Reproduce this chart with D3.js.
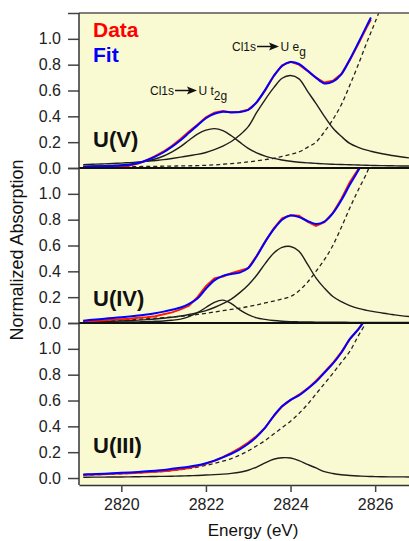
<!DOCTYPE html>
<html>
<head>
<meta charset="utf-8">
<script src="https://cdn.jsdelivr.net/npm/d3@7"></script>
<style>
    body { margin: 0; background: #fff; }
    svg { display: block; font-family: "Liberation Sans", Arial, sans-serif; }
</style>
</head>
<body>
<div id="chart"></div>
<script>
//energy grid shared by all curves (eV)
var energy = [2819.1, 2819.2, 2819.4, 2819.6, 2819.8, 2820.0, 2820.2, 2820.4, 2820.6, 2820.8,
    2821.0, 2821.2, 2821.4, 2821.6, 2821.8, 2822.0, 2822.2, 2822.4, 2822.6, 2822.8,
    2823.0, 2823.2, 2823.4, 2823.6, 2823.8, 2824.0, 2824.2, 2824.4, 2824.6, 2824.8,
    2825.0, 2825.2, 2825.4, 2825.6, 2825.8, 2825.9, 2826.0, 2826.2, 2826.4, 2826.6, 2826.8];

//U(V) panel
var dataV = [0.008, 0.006, 0.007, 0.009, 0.010, 0.012, 0.020, 0.034, 0.060, 0.092,
    0.128, 0.172, 0.225, 0.282, 0.335, 0.392, 0.428, 0.442, 0.430, 0.436,
    0.452, 0.506, 0.600, 0.712, 0.795, 0.822, 0.800, 0.752, 0.700, 0.662,
    0.676, 0.728, 0.835, 0.960, 1.090, 1.150];
var fitV = [0.012, 0.012, 0.013, 0.014, 0.016, 0.019, 0.026, 0.038, 0.060, 0.088,
    0.122, 0.165, 0.215, 0.272, 0.330, 0.385, 0.420, 0.436, 0.432, 0.433,
    0.450, 0.510, 0.605, 0.710, 0.790, 0.820, 0.805, 0.755, 0.700, 0.655,
    0.668, 0.725, 0.840, 0.968, 1.100, 1.165];
var t2gV = [0.012, 0.013, 0.015, 0.017, 0.020, 0.024, 0.030, 0.040, 0.053, 0.070,
    0.093, 0.125, 0.165, 0.215, 0.262, 0.293, 0.305, 0.290, 0.250, 0.200,
    0.152, 0.117, 0.092, 0.074, 0.062, 0.052, 0.045, 0.040, 0.036, 0.032,
    0.029, 0.027, 0.025, 0.023, 0.021, 0.020, 0.019, 0.018, 0.017, 0.016, 0.016];
var egV = [0.026, 0.028, 0.030, 0.032, 0.035, 0.038, 0.042, 0.046, 0.051, 0.058,
    0.065, 0.074, 0.084, 0.095, 0.105, 0.120, 0.142, 0.170, 0.205, 0.255,
    0.320, 0.430, 0.530, 0.620, 0.695, 0.716, 0.690, 0.595, 0.500, 0.400,
    0.310, 0.245, 0.190, 0.160, 0.138, 0.130, 0.122, 0.108, 0.097, 0.087, 0.078];
var edgeV = [0.008, 0.008, 0.009, 0.009, 0.010, 0.010, 0.011, 0.011, 0.012, 0.013,
    0.014, 0.015, 0.016, 0.017, 0.018, 0.021, 0.024, 0.029, 0.034, 0.040,
    0.047, 0.055, 0.065, 0.075, 0.090, 0.105, 0.124, 0.160, 0.200, 0.280,
    0.375, 0.490, 0.640, 0.800, 0.970, 1.050, 1.130, 1.300];

//U(IV) panel
var dataIV = [0.012, 0.014, 0.018, 0.022, 0.027, 0.030, 0.033, 0.040, 0.045, 0.052,
    0.068, 0.082, 0.105, 0.135, 0.200, 0.285, 0.345, 0.360, 0.385, 0.405,
    0.425, 0.520, 0.630, 0.730, 0.810, 0.835, 0.830, 0.785, 0.752, 0.780,
    0.852, 0.960, 1.090, 1.190, 1.300, 1.360];
var fitIV = [0.018, 0.022, 0.027, 0.033, 0.039, 0.045, 0.051, 0.058, 0.066, 0.076,
    0.088, 0.103, 0.120, 0.148, 0.190, 0.265, 0.330, 0.365, 0.380, 0.390,
    0.425, 0.517, 0.628, 0.724, 0.800, 0.832, 0.820, 0.790, 0.767, 0.785,
    0.850, 0.950, 1.070, 1.180, 1.300, 1.360];
var t2gIV = [0.004, 0.004, 0.005, 0.005, 0.006, 0.007, 0.008, 0.009, 0.011, 0.013,
    0.016, 0.021, 0.030, 0.050, 0.080, 0.120, 0.160, 0.177, 0.150, 0.102,
    0.065, 0.040, 0.028, 0.019, 0.014, 0.011, 0.009, 0.008, 0.007, 0.006,
    0.006, 0.006, 0.005, 0.005, 0.005, 0.005, 0.005, 0.004, 0.004, 0.004, 0.004];
var egIV = [0.008, 0.009, 0.010, 0.012, 0.014, 0.016, 0.019, 0.022, 0.026, 0.031,
    0.037, 0.045, 0.054, 0.066, 0.080, 0.096, 0.120, 0.150, 0.185, 0.235,
    0.295, 0.370, 0.460, 0.540, 0.585, 0.592, 0.555, 0.455, 0.350, 0.270,
    0.205, 0.165, 0.135, 0.113, 0.098, 0.092, 0.086, 0.075, 0.066, 0.057, 0.050];
var edgeIV = [0.012, 0.014, 0.016, 0.018, 0.020, 0.023, 0.026, 0.029, 0.033, 0.037,
    0.041, 0.046, 0.052, 0.058, 0.066, 0.075, 0.085, 0.095, 0.105, 0.115,
    0.127, 0.140, 0.155, 0.170, 0.185, 0.205, 0.250, 0.315, 0.400, 0.490,
    0.600, 0.740, 0.890, 1.030, 1.160, 1.240];

//U(III) panel
var dataIII = [0.024, 0.026, 0.028, 0.030, 0.033, 0.035, 0.037, 0.040, 0.044, 0.048,
    0.053, 0.060, 0.068, 0.078, 0.092, 0.110, 0.133, 0.162, 0.195, 0.232,
    0.275, 0.325, 0.390, 0.478, 0.555, 0.603, 0.645, 0.692, 0.752, 0.820,
    0.890, 0.975, 1.075, 1.150, 1.250, 1.300];
var fitIII = [0.027, 0.029, 0.031, 0.034, 0.037, 0.040, 0.043, 0.047, 0.052, 0.057,
    0.063, 0.071, 0.079, 0.088, 0.099, 0.115, 0.135, 0.160, 0.188, 0.222,
    0.265, 0.320, 0.390, 0.480, 0.555, 0.605, 0.640, 0.690, 0.745, 0.815,
    0.885, 0.970, 1.075, 1.150, 1.240, 1.290];
var peakIII = [0.006, 0.006, 0.007, 0.007, 0.008, 0.008, 0.009, 0.010, 0.011, 0.012,
    0.013, 0.014, 0.016, 0.018, 0.020, 0.023, 0.026, 0.030, 0.036, 0.045,
    0.060, 0.085, 0.118, 0.145, 0.157, 0.155, 0.135, 0.105, 0.078, 0.050,
    0.035, 0.025, 0.020, 0.016, 0.013, 0.012, 0.011, 0.010, 0.009, 0.009, 0.008];
var edgeIII = [0.022, 0.024, 0.026, 0.028, 0.031, 0.033, 0.036, 0.039, 0.043, 0.047,
    0.052, 0.058, 0.065, 0.074, 0.085, 0.098, 0.113, 0.130, 0.150, 0.178,
    0.210, 0.250, 0.290, 0.340, 0.390, 0.440, 0.500, 0.570, 0.650, 0.730,
    0.810, 0.895, 0.980, 1.100, 1.210, 1.270];

//tick values
var xTicks = [2820, 2822, 2824, 2826];
var yTicks = [0, 0.2, 0.4, 0.6, 0.8, 1.0, 1.2];

//svg size and plot borders
var svgW = 409;
var svgH = 541;
var plotLeft = 79;
var plotRight = 409;

//panels stacked top to bottom
var panels = [
    {label: "U(V)", data: dataV, fit: fitV, peaks: [t2gV, egV], edge: edgeV,
        top: 13, bottom: 168, ymin: 0, labelY: 147},
    {label: "U(IV)", data: dataIV, fit: fitIV, peaks: [t2gIV, egIV], edge: edgeIV,
        top: 168, bottom: 323, ymin: 0, labelY: 306},
    {label: "U(III)", data: dataIII, fit: fitIII, peaks: [peakIII], edge: edgeIII,
        top: 323, bottom: 485, ymin: -0.054, labelY: 453}
];

var svg = d3.select("#chart").append("svg")
    .attr("width", svgW)
    .attr("height", svgH);

//shared x scale
var xScale = d3.scaleLinear()
    .domain([2819, 2826.8])
    .range([plotLeft, plotRight]);

//yellow plot background
svg.append("rect")
    .attr("x", plotLeft)
    .attr("y", 13)
    .attr("width", plotRight - plotLeft)
    .attr("height", 485 - 13)
    .attr("fill", "#fafad2");

//zip energy with a value array
function points(values) {
    return values.map((v, i) => [energy[i], v]);
}

panels.forEach(function(p, k) {
    var yScale = d3.scaleLinear()
        .domain([p.ymin, 1.2])
        .range([p.bottom, p.top]);

    var smooth = d3.line()
        .x(d => xScale(d[0]))
        .y(d => yScale(d[1]))
        .curve(d3.curveCatmullRom);

    var rough = d3.line()
        .x(d => xScale(d[0]))
        .y(d => yScale(d[1]));

    //clip curves to the panel
    svg.append("clipPath")
        .attr("id", "clip" + k)
        .append("rect")
        .attr("x", plotLeft)
        .attr("y", p.top)
        .attr("width", plotRight - plotLeft)
        .attr("height", p.bottom - p.top);

    var g = svg.append("g").attr("clip-path", `url(#clip${k})`);

    //edge step (dashed)
    g.append("path")
        .attr("d", smooth(points(p.edge)))
        .attr("fill", "none")
        .attr("stroke", "#222")
        .attr("stroke-width", 1.3)
        .attr("stroke-dasharray", "4,3");

    //pre-edge peaks
    p.peaks.forEach(function(pk) {
        g.append("path")
            .attr("d", smooth(points(pk)))
            .attr("fill", "none")
            .attr("stroke", "#1e1e1e")
            .attr("stroke-width", 1.4);
    });

    //data then fit
    g.append("path")
        .attr("d", rough(points(p.data)))
        .attr("fill", "none")
        .attr("stroke", "#ff1a00")
        .attr("stroke-width", 2);

    g.append("path")
        .attr("d", smooth(points(p.fit)))
        .attr("fill", "none")
        .attr("stroke", "#0000ff")
        .attr("stroke-width", 2);

    //left axis for this panel
    var leftAxis = d3.axisLeft(yScale)
        .tickValues(yTicks)
        .tickSize(11)
        .tickPadding(7)
        .tickFormat(d => d > 1.1 ? "" : d3.format(".1f")(d));

    var ax = svg.append("g")
        .attr("transform", `translate(${plotLeft}, 0)`)
        .call(leftAxis);
    ax.select(".domain").remove();
    ax.selectAll("line").attr("stroke", "#444").attr("stroke-width", 1.5);
    ax.selectAll("text")
        .attr("font-size", "16px")
        .attr("font-family", "Liberation Sans, Arial, sans-serif")
        .attr("fill", "#222");

    //panel label
    svg.append("text")
        .attr("x", 93)
        .attr("y", p.labelY)
        .attr("font-size", "22px")
        .attr("font-weight", "bold")
        .attr("fill", "#111")
        .text(p.label);
});

//panel dividers
[168, 323].forEach(function(y) {
    svg.append("line")
        .attr("x1", plotLeft).attr("x2", plotRight)
        .attr("y1", y).attr("y2", y)
        .attr("stroke", "#111")
        .attr("stroke-width", 2);
});

//top border
svg.append("line")
    .attr("x1", plotLeft).attr("x2", plotRight)
    .attr("y1", 13).attr("y2", 13)
    .attr("stroke", "#555")
    .attr("stroke-width", 1.5);

//left axis line
svg.append("line")
    .attr("x1", plotLeft).attr("x2", plotLeft)
    .attr("y1", 13).attr("y2", 485)
    .attr("stroke", "#333")
    .attr("stroke-width", 1.5);

//bottom axis
var bottomAxis = d3.axisBottom(xScale)
    .tickValues(xTicks)
    .tickSize(7)
    .tickPadding(6.5)
    .tickSizeOuter(0)
    .tickFormat(d3.format("d"));

var xAxis = svg.append("g")
    .attr("transform", "translate(0, 485)")
    .call(bottomAxis);
xAxis.select(".domain").attr("stroke", "#333").attr("stroke-width", 1.5);
xAxis.selectAll("line").attr("stroke", "#444").attr("stroke-width", 1.5);
xAxis.selectAll("text")
    .attr("font-size", "16px")
    .attr("font-family", "Liberation Sans, Arial, sans-serif")
    .attr("fill", "#222");

//axis titles
svg.append("text")
    .attr("x", 253)
    .attr("y", 536)
    .attr("text-anchor", "middle")
    .attr("font-size", "17px")
    .attr("fill", "#111")
    .text("Energy (eV)");

svg.append("text")
    .attr("transform", "translate(23, 250) rotate(-90)")
    .attr("text-anchor", "middle")
    .attr("font-size", "18px")
    .attr("fill", "#111")
    .text("Normalized Absorption");

//legend
svg.append("text")
    .attr("x", 93).attr("y", 37)
    .attr("font-size", "21px").attr("font-weight", "bold")
    .attr("fill", "#ff0000")
    .text("Data");
svg.append("text")
    .attr("x", 93).attr("y", 62)
    .attr("font-size", "21px").attr("font-weight", "bold")
    .attr("fill", "#0000ff")
    .text("Fit");

//transition annotations: Cl1s -> U t2g / U eg
function annotate(x, y, state, sub) {
    svg.append("text")
        .attr("x", x).attr("y", y)
        .attr("font-size", "12px").attr("fill", "#111")
        .text("Cl1s");
    var a0 = x + 25, a1 = x + 47, ay = y - 4.5;
    svg.append("line")
        .attr("x1", a0).attr("x2", a1 - 6)
        .attr("y1", ay).attr("y2", ay)
        .attr("stroke", "#111").attr("stroke-width", 1.5);
    svg.append("path")
        .attr("d", `M${a1 - 10},${ay - 4} L${a1},${ay} L${a1 - 10},${ay + 4} L${a1 - 8},${ay} Z`)
        .attr("fill", "#111");
    var t = svg.append("text")
        .attr("x", a1 + 1.5).attr("y", y)
        .attr("font-size", "12px").attr("fill", "#111");
    t.append("tspan").text(state);
    t.append("tspan").attr("dy", 5).text(sub);
}

annotate(150, 95, "U t", "2g");
annotate(232, 51, "U e", "g");
</script>
</body>
</html>
